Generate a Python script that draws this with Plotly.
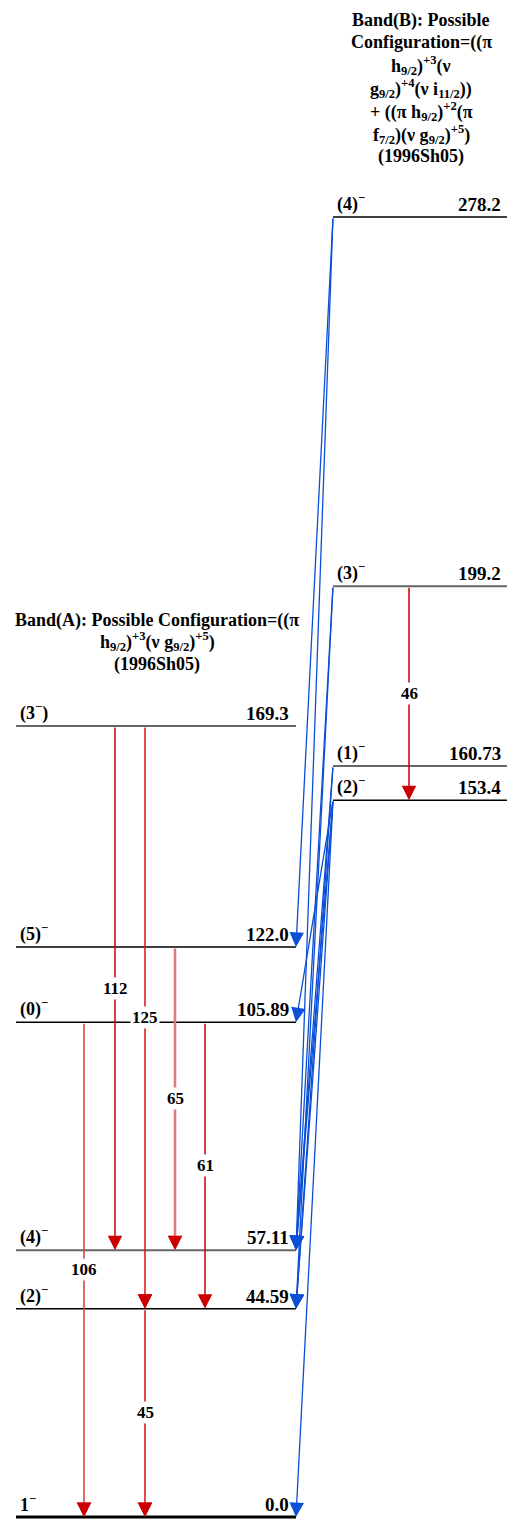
import plotly.graph_objects as go

# ---------------- data ----------------
band_a_energies = [0.0, 44.59, 57.11, 105.89, 122.0, 169.3]
band_a_spins = ["1<sup>−</sup>", "(2)<sup>−</sup>", "(4)<sup>−</sup>", "(0)<sup>−</sup>", "(5)<sup>−</sup>", "(3<sup>−</sup>)"]
band_a_labels = ["0.0", "44.59", "57.11", "105.89", "122.0", "169.3"]

band_b_energies = [153.4, 160.73, 199.2, 278.2]
band_b_spins = ["(2)<sup>−</sup>", "(1)<sup>−</sup>", "(3)<sup>−</sup>", "(4)<sup>−</sup>"]
band_b_labels = ["153.4", "160.73", "199.2", "278.2"]

# in-band gamma transitions (initial level, final level, label)
a_gamma_from = [169.3, 169.3, 122.0, 105.89, 105.89, 44.59]
a_gamma_to = [57.11, 44.59, 57.11, 44.59, 0.0, 0.0]
a_gamma_labels = ["112", "125", "65", "61", "106", "45"]

b_gamma_from = [199.2]
b_gamma_to = [153.4]
b_gamma_labels = ["46"]

# inter-band transitions (band B level -> band A level)
link_from = [278.2, 278.2, 199.2, 199.2, 160.73, 160.73, 153.4, 153.4, 153.4, 153.4]
link_to = [122.0, 57.11, 57.11, 44.59, 57.11, 44.59, 105.89, 57.11, 44.59, 0.0]

band_a_title = ["Band(A): Possible Configuration=((π",
                "h<sub>9/2</sub>)<sup>+3</sup>(ν g<sub>9/2</sub>)<sup>+5</sup>)",
                "(1996Sh05)"]
band_b_title = ["Band(B): Possible",
                "Configuration=((π",
                "h<sub>9/2</sub>)<sup>+3</sup>(ν",
                "g<sub>9/2</sub>)<sup>+4</sup>(ν i<sub>11/2</sub>))",
                "+ ((π h<sub>9/2</sub>)<sup>+2</sup>(π",
                "f<sub>7/2</sub>)(ν g<sub>9/2</sub>)<sup>+5</sup>)",
                "(1996Sh05)"]

# ---------------- layout / style ----------------
W, H = 507, 1520
PX_PER_KEV = 1300 / 278.2
Y0_PX = 1517
y_top = Y0_PX / PX_PER_KEV
y_bot = -(H - Y0_PX) / PX_PER_KEV

A_X0, A_X1 = 16, 296
B_X0, B_X1 = 333, 507
a_gamma_x = [115, 145, 175, 205, 84, 145]
a_gamma_color = ["#cc0000", "#d41515", "#e27a7a", "#cc0000", "#d83a3a", "#d01010"]
a_gamma_width = [1.5, 1.5, 2.6, 1.5, 1.5, 1.5]
b_gamma_x = [409]
a_level_color = ["#000000", "#000000", "#666666", "#000000", "#000000", "#666666"]
a_level_width = [3, 1.5, 2, 1.5, 1.5, 2]
b_level_color = ["#000000", "#666666", "#666666", "#000000"]
b_level_width = [1.5, 2, 2, 1.5]
RED = "#cc0000"
BLUE = "#0a4fd6"
FONT = "Liberation Serif"
HEAD_SCALE = 2.9

fig = go.Figure()

shapes = []
ann = []

def level(x0, x1, e, color, width, spin, lab, lab_x):
    shapes.append(dict(type="line", xref="x", yref="y", x0=x0, x1=x1, y0=e, y1=e,
                       line=dict(color=color, width=width), layer="below"))
    ann.append(dict(x=x0 + 2, y=e, xref="x", yref="y", text="<b>" + spin + "</b>", showarrow=False,
                    xanchor="left", yanchor="bottom", yshift=0, font=dict(family=FONT, size=18, color="black")))
    ann.append(dict(x=lab_x, y=e, xref="x", yref="y", text="<b>" + lab + "</b>", showarrow=False,
                    xanchor="right", yanchor="bottom", yshift=0, font=dict(family=FONT, size=19, color="black")))

for e, s, l, c, w in zip(band_a_energies, band_a_spins, band_a_labels, a_level_color, a_level_width):
    level(A_X0, A_X1, e, c, w, s, l, 291)
for e, s, l, c, w in zip(band_b_energies, band_b_spins, band_b_labels, b_level_color, b_level_width):
    level(B_X0, B_X1, e, c, w, s, l, 503)

def arrow(x, y, ax, ay, color, width, axref="x", ayref="y"):
    ann.append(dict(x=x, y=y, ax=ax, ay=ay, xref="x", yref="y", axref=axref, ayref=ayref,
                    text="", showarrow=True, arrowhead=2, arrowsize=HEAD_SCALE / width,
                    arrowwidth=width, arrowcolor=color, standoff=0, startstandoff=0))

# inter-band links
for ef, et in zip(link_from, link_to):
    arrow(A_X1, et, B_X0, ef, BLUE, 1.3)

labels = []
for ef, et, lab, x, c, w in zip(a_gamma_from, a_gamma_to, a_gamma_labels, a_gamma_x, a_gamma_color, a_gamma_width):
    arrow(x, et, x, ef, c, w)
    if c != RED:
        # solid red head over a lighter line
        arrow(x, et, 0, -14, RED, 1.5, axref="pixel", ayref="pixel")
    labels.append((x, (ef + et) / 2, lab))
for ef, et, lab, x in zip(b_gamma_from, b_gamma_to, b_gamma_labels, b_gamma_x):
    arrow(x, et, x, ef, RED, 1.5)
    labels.append((x, (ef + et) / 2, lab))

for x, y, lab in labels:
    ann.append(dict(x=x, y=y, xref="x", yref="y", text="<b>" + lab + "</b>", showarrow=False,
                    bgcolor="white", borderpad=1, font=dict(family=FONT, size=17, color="black")))

def title(lines, cx, first_px, step):
    for i, t in enumerate(lines):
        ann.append(dict(x=cx, y=1 - (first_px + i * step) / H, xref="x", yref="paper",
                        text="<b>" + t + "</b>", showarrow=False, xanchor="center", yanchor="middle",
                        font=dict(family=FONT, size=18, color="black")))

title(band_a_title, 157, 620, 22)
title(band_b_title, 421, 20, 22.8)

fig.update_layout(
    width=W, height=H, margin=dict(l=0, r=0, t=0, b=0),
    paper_bgcolor="white", plot_bgcolor="white",
    xaxis=dict(range=[0, W], visible=False, fixedrange=True),
    yaxis=dict(range=[y_bot, y_top], visible=False, fixedrange=True),
    shapes=shapes, annotations=ann, showlegend=False, hovermode=False,
)
fig.write_html("out.html", config={"displayModeBar": False},
               post_script="document.body.style.margin='0';document.body.style.overflow='hidden';")
